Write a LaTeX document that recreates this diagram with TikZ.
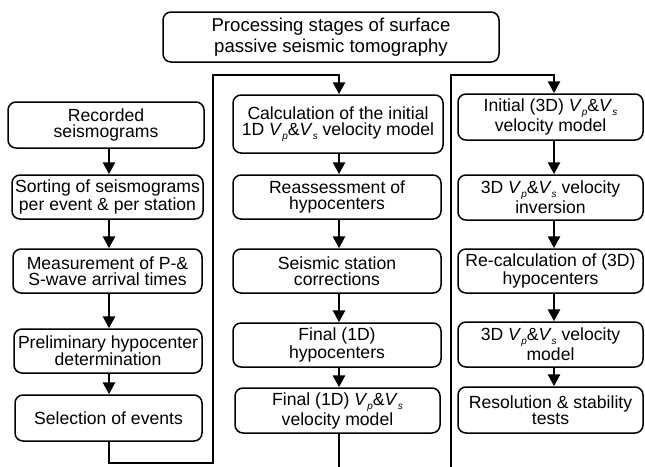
\documentclass[tikz,border=0pt]{standalone}
\usepackage{fontspec}
\setmainfont{Liberation Sans}
\usetikzlibrary{arrows.meta}
\newcommand{\subsc}[1]{\raisebox{-0.45ex}{\fontsize{10}{10}\selectfont\textit{#1}}}
\newcommand{\vpvs}{\textit{V}\subsc{p}\&\textit{V}\subsc{s}}
\begin{document}
\begin{tikzpicture}[x=1pt,y=-1pt,
  stage/.style={draw, line width=1.5pt, rounded corners=8pt, align=center,
    inner sep=0pt, font=\fontsize{17.6}{16}\selectfont},
  conn/.style={line width=2.8pt},
  arr/.style={conn, -{Triangle[length=12pt,width=12pt]}}]
\useasboundingbox (0,0) rectangle (645,466);
\clip (0,0) rectangle (645,466);
% title
\node[stage, font=\fontsize{18.6}{20.5}\selectfont, minimum width=336pt, minimum height=50pt]
  (title) at (331,37) {Processing stages of surface\\passive seismic tomography};
% column 1
\node[stage, minimum width=196pt, minimum height=46pt] (rec)  at (106,125)   {Recorded\\seismograms};
\node[stage, minimum width=191pt, minimum height=44pt] (sort) at (107.5,197) {Sorting of seismograms\\per event \& per station};
\node[stage, minimum width=189pt, minimum height=44pt] (meas) at (107.5,271) {Measurement of P-\&\\S-wave arrival times};
\node[stage, minimum width=188pt, minimum height=44pt] (prel) at (108,351)   {Preliminary hypocenter\\determination};
\node[stage, minimum width=187pt, minimum height=46pt] (sel)  at (108.5,418) {Selection of events};
% column 2
\node[stage, minimum width=210pt, minimum height=58pt] (calc) at (338,124)   {Calculation of the initial\\1D \vpvs{} velocity model};
\node[stage, minimum width=208pt, minimum height=44pt] (reas) at (337,197)   {Reassessment of\\hypocenters};
\node[stage, minimum width=208pt, minimum height=44pt] (seis) at (337,271)   {Seismic station\\corrections};
\node[stage, minimum width=208pt, minimum height=44pt] (fhyp) at (337,345)   {Final (1D)\\hypocenters};
\node[stage, minimum width=205pt, minimum height=45pt] (fvel) at (337.5,410.5) {Final (1D) \vpvs\\velocity model};
% column 3
\node[stage, minimum width=185pt, minimum height=46pt] (init) at (550.5,117)   {Initial (3D) \vpvs\\velocity model};
\node[stage, minimum width=185pt, minimum height=45pt] (inv)  at (550.5,197.5) {3D \vpvs{} velocity\\inversion};
\node[stage, minimum width=185pt, minimum height=44pt] (recl) at (550.5,271)   {Re-calculation of (3D)\\hypocenters};
\node[stage, minimum width=185pt, minimum height=45pt] (m3d)  at (550.5,344.5) {3D \vpvs{} velocity\\model};
\node[stage, minimum width=185pt, minimum height=46pt] (res)  at (550.5,410)   {Resolution \& stability\\tests};
% column axes
\coordinate (c1) at (109,0);
\coordinate (c2) at (339,0);
\coordinate (c3) at (554,0);
% arrows within columns
\draw[arr] (rec.south -| c1)  -- (sort.north -| c1);
\draw[arr] (sort.south -| c1) -- (meas.north -| c1);
\draw[arr] (meas.south -| c1) -- (prel.north -| c1);
\draw[arr] (prel.south -| c1) -- (sel.north -| c1);
\draw[arr] (calc.south -| c2) -- (reas.north -| c2);
\draw[arr] (reas.south -| c2) -- (seis.north -| c2);
\draw[arr] (seis.south -| c2) -- (fhyp.north -| c2);
\draw[arr] (fhyp.south -| c2) -- (fvel.north -| c2);
\draw[arr] (init.south -| c3) -- (inv.north -| c3);
\draw[arr] (inv.south -| c3)  -- (recl.north -| c3);
\draw[arr] (recl.south -| c3) -- (m3d.north -| c3);
\draw[arr] (m3d.south -| c3)  -- (res.north -| c3);
% links between columns
\coordinate (b1) at (109,463);
\coordinate (r1) at (213,463);
\coordinate (t1) at (213,75);
\draw[arr] (sel.south -| c1) -- (b1) -- (r1) -- (t1) -- (t1 -| c2) -- (calc.north -| c2);
\coordinate (b2) at (339,474);
\coordinate (r2) at (451,474);
\coordinate (t2) at (451,75);
\draw[arr] (fvel.south -| c2) -- (b2) -- (r2) -- (t2) -- (t2 -| c3) -- (init.north -| c3);
\end{tikzpicture}
\end{document}
